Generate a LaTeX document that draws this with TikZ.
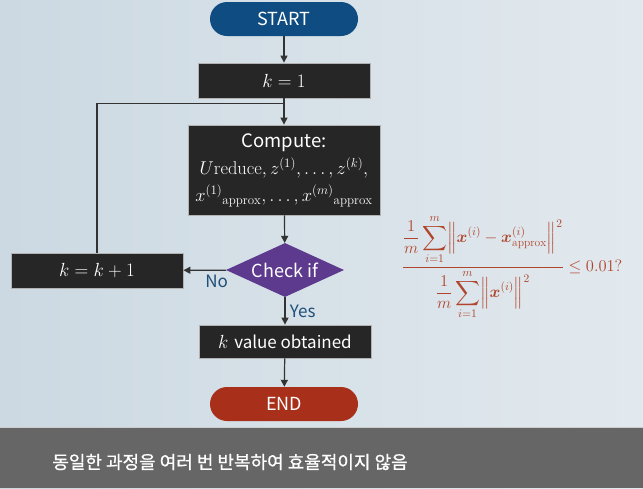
\RequirePackage{fix-cm}
\documentclass[tikz,border=0pt]{standalone}
\usepackage{amsmath}
\usepackage{fontspec}
\setsansfont{Noto Sans CJK KR}
\newfontfamily\krfont[FakeBold=0.8]{Noto Sans CJK KR}
\usetikzlibrary{arrows.meta,shapes.geometric,calc}
\definecolor{startblue}{HTML}{0F4C81}
\definecolor{endred}{HTML}{A8301A}
\definecolor{boxdark}{HTML}{262626}
\definecolor{checkpurple}{HTML}{5D3A8E}
\definecolor{labelblue}{HTML}{1F4E79}
\definecolor{formred}{HTML}{B0452C}
\definecolor{arrowgray}{HTML}{333333}
\definecolor{band}{HTML}{666666}
\definecolor{bgleft}{HTML}{CCD9E2}
\definecolor{bgright}{HTML}{E2E9EE}
\tikzset{procbox/.style={draw=gray!60,line width=0.8pt,fill=boxdark,text=white,align=center,
 font=\fontsize{19}{21}\selectfont,minimum width=172pt,minimum height=35pt,inner sep=2pt},
 termbox/.style={rounded corners=17pt,text=white,font=\sffamily\fontsize{18}{20}\selectfont,
 minimum width=148pt,minimum height=34pt},
 flowarrow/.style={-{Triangle[length=7pt,width=7pt]},draw=arrowgray,line width=1.2pt},
 flowline/.style={draw=arrowgray,line width=1.2pt}}

\begin{document}
\begin{tikzpicture}[x=1pt,y=-1pt,lbl/.style={text=labelblue,font=\sffamily\fontsize{17}{19}\selectfont}]
\useasboundingbox (0,0) rectangle (643,488);
\fill[left color=bgleft,right color=bgright] (0,0) rectangle (643,488);
\fill[band] (0,427) rectangle (643,488);
\draw[gray!40,line width=1pt] (0,427.5)--(643,427.5);
\node[termbox,fill=startblue] (start) at (284,19) {START};
\node[procbox] (k1) at (284,80.5) {$k=1$};
\node[procbox,minimum width=192pt,minimum height=90pt,font=\fontsize{18.5}{27}\selectfont] (comp) at (284,170)
 {\sffamily Compute:\\$U\mathrm{reduce},z^{(1)},\ldots,z^{(k)},$\\$x^{(1)}{}_{\mathrm{approx}},\ldots,x^{(m)}{}_{\mathrm{approx}}$};
\node[diamond,fill=checkpurple,text=white,aspect=2.2,inner sep=0pt,minimum width=118pt,minimum height=54pt,
 font=\sffamily\fontsize{18}{20}\selectfont] (check) at (285,270) {Check if};
\node[procbox] (kinc) at (97,270.5) {$k=k+1$};
\node[procbox,minimum height=33pt] (kval) at (285,341.5) {$k$ \sffamily\fontsize{17}{19}\selectfont value obtained};
\node[termbox,fill=endred] (end) at (284,404) {END};
\node[text=formred,font=\fontsize{16.5}{18}\selectfont] (ratio) at (512,267)
 {$\dfrac{\displaystyle\frac{1}{m}\sum_{i=1}^{m}\Bigl\|\boldsymbol{x}^{(i)}-\boldsymbol{x}^{(i)}_{\mathrm{approx}}\Bigr\|^2}
 {\displaystyle\frac{1}{m}\sum_{i=1}^{m}\Bigl\|\boldsymbol{x}^{(i)}\Bigr\|^2}\le 0.01?$};
\node[text=white,font=\krfont\fontsize{18}{20}\selectfont] (note) at (230,462) {동일한 과정을 여러 번 반복하여 효율적이지 않음};
\coordinate (join) at ($(k1.south)!0.19!(comp.north)$);
\draw[flowarrow] (start)--(k1);
\draw[flowarrow] (k1)--(comp);
\draw[flowarrow] (comp)--(check);
\draw[flowarrow] (check)--node[lbl,pos=0.22,below=1pt]{No}(kinc);
\draw[flowarrow] (check)--node[lbl,right=1pt]{Yes}(kval);
\draw[flowarrow] (kval)--(end);
\draw[flowline] (kinc.north) |- (join);
\end{tikzpicture}
\end{document}
